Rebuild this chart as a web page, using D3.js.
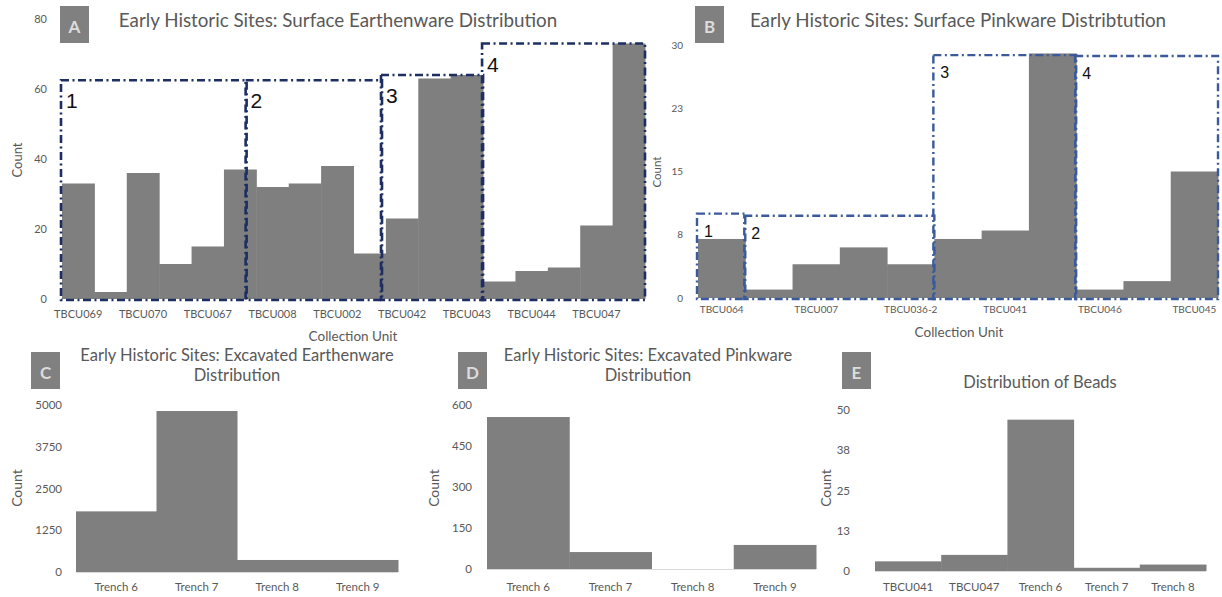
<!DOCTYPE html>
<html>
<head>
<meta charset="utf-8">
<script src="https://cdn.jsdelivr.net/npm/d3@7"></script>
<style>
  html, body { margin: 0; padding: 0; background: #fff; }
  svg { display: block; font-family: Lato, "Open Sans", sans-serif; }
</style>
</head>
<body>
<svg id="chart" width="1222" height="597"></svg>
<script>
// ---- Panel A: surface earthenware per collection unit ----
const aCounts = [33, 2, 36, 10, 15, 37, 32, 33, 38, 13, 23, 63, 64, 5, 8, 9, 21, 73];
const aTickLabels = ["TBCU069", "TBCU070", "TBCU067", "TBCU008", "TBCU002", "TBCU042", "TBCU043", "TBCU044", "TBCU047"];
const aYTicks = [0, 20, 40, 60, 80];
// site groupings, given as positions along the unit sequence (in bar widths)
const aGroupLabels = ["1", "2", "3", "4"];
const aGroupFrom = [0, 5.7, 9.88, 13];
const aGroupTo = [5.7, 9.88, 13, 18];
const aGroupTop = [62.5, 62.5, 64, 73];

// ---- Panel B: surface pinkware per collection unit ----
const bCounts = [7, 1, 4, 6, 4, 7, 8, 29, 1, 2, 15];
const bTickLabels = ["TBCU064", "TBCU007", "TBCU036-2", "TBCU041", "TBCU046", "TBCU045"];
const bYTicks = [0, 7.5, 15, 22.5, 30];
const bGroupLabels = ["1", "2", "3", "4"];
const bGroupFrom = [0, 1, 5, 8];
const bGroupTo = [1, 5, 8, 11];
const bGroupTop = [10, 9.75, 28.8, 28.7];

// ---- Panel C: excavated earthenware per trench ----
const cCategories = ["Trench 6", "Trench 7", "Trench 8", "Trench 9"];
const cCounts = [1815, 4820, 360, 360];
const cYTicks = [0, 1250, 2500, 3750, 5000];

// ---- Panel D: excavated pinkware per trench ----
const dCategories = ["Trench 6", "Trench 7", "Trench 8", "Trench 9"];
const dCounts = [556, 62, 0, 88];
const dYTicks = [0, 150, 300, 450, 600];

// ---- Panel E: beads ----
const eCategories = ["TBCU041", "TBCU047", "Trench 6", "Trench 7", "Trench 8"];
const eCounts = [3, 5, 47, 1, 2];
const eYTicks = [0, 12.5, 25, 37.5, 50];

const BAR = "#7f7f7f";
const TXT = "#595959";
const svg = d3.select("#chart");
const fmt0 = d3.format(".0f");

function badge(x, y, letter) {
  svg.append("rect").attr("x", x).attr("y", y).attr("width", 29).attr("height", 37).attr("fill", "#808080");
  svg.append("text").attr("x", x + 14.5).attr("y", y + 27).attr("text-anchor", "middle")
    .attr("font-size", 17).attr("font-weight", "bold").attr("fill", "#dcdcdc").text(letter);
}

function title(lines, cx, y0, size) {
  lines.forEach((t, i) => {
    svg.append("text").attr("x", cx).attr("y", y0 + i * 20).attr("text-anchor", "middle")
      .attr("font-size", size).attr("fill", TXT).text(t);
  });
}

function vLabel(text, x, y, size) {
  svg.append("text").attr("transform", `translate(${x},${y}) rotate(-90)`).attr("text-anchor", "middle")
    .attr("font-size", size).attr("fill", TXT).text(text);
}

function yAxis(y, ticks, xEnd, size) {
  const g = svg.append("g").attr("transform", `translate(${xEnd},0)`)
    .call(d3.axisLeft(y).tickValues(ticks).tickSize(0).tickPadding(0).tickFormat(fmt0));
  g.select(".domain").remove();
  g.selectAll("text").attr("font-size", size).attr("fill", TXT).attr("font-family", "Lato, sans-serif");
}

function xAxis(x, tickVals, labels, yPos, size) {
  const g = svg.append("g").attr("transform", `translate(0,${yPos})`)
    .call(d3.axisBottom(x).tickValues(tickVals).tickSize(0).tickPadding(0)
      .tickFormat((d, i) => labels[i]));
  g.select(".domain").remove();
  g.selectAll("text").attr("font-size", size).attr("fill", TXT).attr("font-family", "Lato, sans-serif")
    .attr("dy", 0);
}

function bars(x, y, values, keys) {
  svg.append("g").selectAll("rect").data(values).join("rect")
    .attr("x", (d, i) => x(keys[i]))
    .attr("width", x.bandwidth() + 0.5)
    .attr("y", d => y(d))
    .attr("height", d => y(0) - y(d))
    .attr("fill", BAR);
}

// dash-dot rectangles outlining the site groups
function groupBoxes(pos, y, labels, from, to, tops, color, width, dash, lblSize, lblDx, lblDy) {
  const g = svg.append("g");
  labels.forEach((lbl, i) => {
    const x0 = pos(from[i]) - 1;
    const x1 = pos(to[i]);
    const yt = y(tops[i]);
    const yb = y(0) + 1;
    g.append("rect").attr("x", x0).attr("y", yt).attr("width", x1 - x0).attr("height", yb - yt)
      .attr("fill", "none").attr("stroke", color).attr("stroke-width", width)
      .attr("stroke-dasharray", dash);
    g.append("text").attr("x", x0 + lblDx).attr("y", yt + lblDy)
      .attr("font-family", "'Liberation Sans', Arial, sans-serif")
      .attr("font-size", lblSize).attr("fill", "#111").text(lbl);
  });
}

// ================= Panel A =================
{
  const keys = d3.range(aCounts.length);
  const range = [62, 645];
  const x = d3.scaleBand().domain(keys).range(range).padding(0);
  const pos = d3.scaleLinear().domain([0, aCounts.length]).range(range);
  const y = d3.scaleLinear().domain([0, 80]).range([299, 19]);
  bars(x, y, aCounts, keys);
  yAxis(y, aYTicks, 47, 11);
  xAxis(x, d3.range(0, aCounts.length, 2), aTickLabels, 318, 11);
  groupBoxes(pos, y, aGroupLabels, aGroupFrom, aGroupTo, aGroupTop, "#1d2f62", 2.6, "8,3.5,2,3.5", 21, 5, 28);
  badge(60, 6, "A");
  title(["Early Historic Sites: Surface Earthenware Distribution"], 338, 27, 18.8);
  vLabel("Count", 22, 160, 13);
  svg.append("text").attr("x", 353).attr("y", 341).attr("text-anchor", "middle")
    .attr("font-size", 13.5).attr("fill", TXT).text("Collection Unit");
}

// ================= Panel B =================
{
  const keys = d3.range(bCounts.length);
  const range = [698, 1218];
  const x = d3.scaleBand().domain(keys).range(range).padding(0);
  const pos = d3.scaleLinear().domain([0, bCounts.length]).range(range);
  const y = d3.scaleLinear().domain([0, 30]).range([298, 45]);
  bars(x, y, bCounts, keys);
  yAxis(y, bYTicks, 683, 10);
  xAxis(x, d3.range(0, bCounts.length, 2), bTickLabels, 313, 10);
  groupBoxes(pos, y, bGroupLabels, bGroupFrom, bGroupTo, bGroupTop, "#3a5a9b", 2.4, "8,3.5,2,3.5", 16, 7, 23);
  badge(695, 6, "B");
  title(["Early Historic Sites: Surface Pinkware Distribtution"], 958, 27, 18.8);
  vLabel("Count", 661, 172, 11.5);
  svg.append("text").attr("x", 959).attr("y", 337).attr("text-anchor", "middle")
    .attr("font-size", 13.5).attr("fill", TXT).text("Collection Unit");
}

// ================= Panels C, D, E =================
function simplePanel(cats, vals, ticks, xr, y0, yTop, yEnd, letter, bx, titleLines, tcx, ty, countX) {
  const x = d3.scaleBand().domain(cats).range(xr).padding(0);
  const y = d3.scaleLinear().domain([0, ticks[ticks.length - 1]]).range([y0, yTop]);
  svg.append("line").attr("x1", xr[0]).attr("x2", xr[1]).attr("y1", y0 + 0.5).attr("y2", y0 + 0.5)
    .attr("stroke", "#d9d9d9").attr("stroke-width", 1);
  bars(x, y, vals, cats);
  yAxis(y, ticks, yEnd, 11.5);
  xAxis(x, cats, cats, 591, 11.5);
  badge(bx, 352, letter);
  title(titleLines, tcx, ty, 16.5);
  vLabel("Count", countX, 488, 14);
}

simplePanel(cCategories, cCounts, cYTicks, [76, 398], 572, 405, 62, "C", 31,
  ["Early Historic Sites: Excavated Earthenware", "Distribution"], 237, 361, 22);
simplePanel(dCategories, dCounts, dYTicks, [487, 816], 569, 405, 472, "D", 458,
  ["Early Historic Sites: Excavated Pinkware", "Distribution"], 648, 361, 439);
simplePanel(eCategories, eCounts, eYTicks, [875, 1206], 571, 410, 850, "E", 842,
  ["Distribution of Beads"], 1040, 388, 831);
</script>
</body>
</html>
